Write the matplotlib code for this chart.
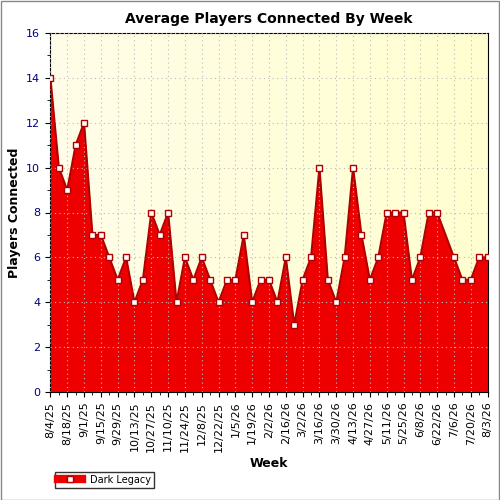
import matplotlib
matplotlib.use("Agg")
import matplotlib.pyplot as plt
import numpy as np
import datetime as dt

start = dt.date(2025, 8, 4)
values = [14,10,9,11,12,7,7,6,5,6,4,5,8,7,8,4,6,5,6,5,4,5,5,7,4,5,5,4,6,3,
          5,6,10,5,4,6,10,7,5,6,8,8,8,5,6,8,8,None,6,5,5,6,6]
series_name = "Dark Legacy"
n = len(values)
x = np.arange(n)
y = np.array([np.nan if v is None else v for v in values], dtype=float)
mask = ~np.isnan(y)
yfill = np.interp(x, x[mask], y[mask])
labels = [(start + dt.timedelta(weeks=i)) for i in range(n)]
labels = [f"{d.month}/{d.day}/{d.year % 100}" for d in labels]

fig = plt.figure(figsize=(5, 5), dpi=100)
fig.patch.set_facecolor("white")
ax = fig.add_axes([0.10, 0.216, 0.876, 0.718])
# gradient background
grad = np.linspace(0, 1, 256).reshape(1, -1)
from matplotlib.colors import LinearSegmentedColormap
cm = LinearSegmentedColormap.from_list("bg", ["#fffde8", "#ffffd0"])
ax.imshow(grad, extent=[-0.05, n - 0.95, 0, 16], aspect="auto", cmap=cm, zorder=0)
ax.fill_between(x, 0, yfill, color="#ee0000", zorder=2, linewidth=0)
ax.plot(x, yfill, color="#b00000", lw=1.5, zorder=3)
ax.plot(x[mask], y[mask], ls="none", marker="s", ms=5, mfc="white", mec="#b00000", mew=1, zorder=4)
ax.set_xlim(-0.05, n - 0.95)
ax.set_ylim(0, 16)
ax.set_yticks(range(0, 17, 2))
ax.set_yticks(range(0, 17), minor=True)
ax.set_xticks(x[::2])
ax.set_xticklabels(labels[::2], rotation=90, fontsize=8)
ax.set_xticks(x, minor=True)
ax.tick_params(axis="y", labelsize=8, labelcolor="#000080")
ax.tick_params(axis="x", labelcolor="#000000")
ax.grid(True, which="major", ls=(0, (1, 3)), color="#bbbbbb", lw=0.8, zorder=1)
ax.set_axisbelow(False)
ax.set_title("Average Players Connected By Week", fontsize=10, fontweight="bold", pad=7)
ax.set_xlabel("Week", fontsize=9, fontweight="bold")
ax.set_ylabel("Players Connected", fontsize=9, fontweight="bold")
fig.legend(handles=[plt.Line2D([], [], color="#ee0000", lw=6, marker="s", ms=4, mfc="white", mec="#b00000")],
           labels=[series_name], loc="lower left", bbox_to_anchor=(0.1, 0.015), fontsize=7,
           frameon=True, fancybox=False, edgecolor="black", handlelength=2.5, borderpad=0.3)
fig.add_artist(plt.Rectangle((0.001, 0.001), 0.997, 0.997, transform=fig.transFigure, fill=False, ec="#888888", lw=1))
fig.savefig("out.png", dpi=100)
